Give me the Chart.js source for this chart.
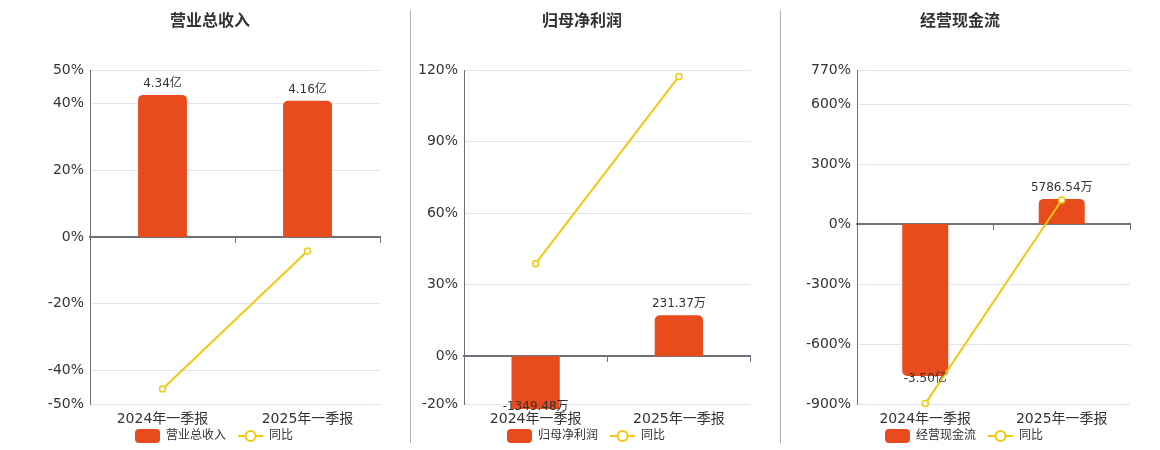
<!DOCTYPE html>
<html>
<head>
<meta charset="utf-8">
<script src="https://cdn.jsdelivr.net/npm/chart.js@4/dist/chart.umd.min.js"></script>
<style>
  html, body { margin: 0; padding: 0; background: #fff; overflow: hidden; width: 1160px; height: 450px; }
  .panel { position: absolute; top: 0; height: 452px; }
  .sep { position: absolute; top: 10px; height: 433px; width: 1px; background: #b4b4b4; }
</style>
</head>
<body>
<div class="panel" style="left:0px;width:420px;"><canvas id="c1"></canvas></div>
<div class="panel" style="left:408px;width:348px;"><canvas id="c2"></canvas></div>
<div class="panel" style="left:780px;width:360px;"><canvas id="c3"></canvas></div>
<div class="sep" style="left:410px;"></div>
<div class="sep" style="left:780px;"></div>
<script>
// ---------- data ----------
const categories = ['2024年一季报', '2025年一季报'];

const revenueTitle = '营业总收入';
const revenueValues = [4.34, 4.16];            // 亿
const revenueLabels = ['4.34亿', '4.16亿'];
const revenueYoY = [-45.5, -4.2];              // %
const revenueTicks = [50, 40, 20, 0, -20, -40, -50];

const profitTitle = '归母净利润';
const profitValues = [-1349.48, 231.37];       // 万
const profitLabels = ['-1349.48万', '231.37万'];
const profitYoY = [38.8, 117.3];               // %
const profitTicks = [120, 90, 60, 30, 0, -20];

const cashTitle = '经营现金流';
const cashValues = [-35000, 5786.54];          // 万
const cashLabels = ['-3.50亿', '5786.54万'];
const cashYoY = [-898, 120];                   // %
const cashTicks = [770, 600, 300, 0, -300, -600, -900];

const yoyLabel = '同比';

// ---------- style ----------
const FONT = '"DejaVu Sans", "Noto Sans CJK SC", sans-serif';
const BAR_COLOR = '#E84C1D';
const LINE_COLOR = '#F2C811';
const AXIS_COLOR = '#6E7079';
const GRID_COLOR = '#E0E6F1';
const TEXT_COLOR = '#333333';

function makeMarker(type) {
  const c = document.createElement('canvas');
  c.width = 33; c.height = 14;
  const ctx = c.getContext('2d');
  if (type === 'bar') {
    ctx.fillStyle = BAR_COLOR;
    const x = 8, y = 0, w = 25, h = 14, r = 4;
    ctx.beginPath();
    ctx.moveTo(x + r, y);
    ctx.arcTo(x + w, y, x + w, y + h, r);
    ctx.arcTo(x + w, y + h, x, y + h, r);
    ctx.arcTo(x, y + h, x, y, r);
    ctx.arcTo(x, y, x + w, y, r);
    ctx.closePath();
    ctx.fill();
  } else {
    ctx.strokeStyle = LINE_COLOR;
    ctx.lineWidth = 2;
    ctx.beginPath();
    ctx.moveTo(8, 7); ctx.lineTo(33, 7);
    ctx.stroke();
    ctx.beginPath();
    ctx.arc(20.5, 7, 5, 0, Math.PI * 2);
    ctx.fillStyle = '#fff';
    ctx.fill();
    ctx.stroke();
  }
  return c;
}
const barMarker = makeMarker('bar');
const lineMarker = makeMarker('line');

const barLabelPlugin = {
  id: 'barLabels',
  afterDatasetsDraw(chart, args, opts) {
    const ctx = chart.ctx;
    const area = chart.chartArea;
    const meta = chart.getDatasetMeta(0);
    const labels = opts.labels || [];
    ctx.save();
    ctx.font = '12px ' + FONT;
    ctx.fillStyle = TEXT_COLOR;
    ctx.textAlign = 'center';
    ctx.textBaseline = 'middle';
    meta.data.forEach((el, i) => {
      const v = chart.data.datasets[0].data[i];
      const top = Math.min(el.y, el.base);
      const bottom = Math.max(el.y, el.base);
      if (v >= 0) {
        ctx.fillText(labels[i], el.x, Math.max(top, area.top) - 11);
      } else {
        ctx.fillText(labels[i], el.x, Math.min(bottom, area.bottom) + 3);
      }
    });
    ctx.restore();
  }
};

function buildChart(id, title, barValues, barLabels, yoy, ticks, barMin, barMax, leftW, rightW) {
  const yMin = Math.min(...ticks), yMax = Math.max(...ticks);
  return new Chart(document.getElementById(id), {
    type: 'bar',
    data: {
      labels: categories,
      datasets: [
        { type: 'bar', label: title, data: barValues, yAxisID: 'y1', xAxisID: 'x',
          backgroundColor: BAR_COLOR, borderRadius: 5, borderSkipped: 'start',
          barPercentage: 0.337, categoryPercentage: 1,
          clip: {left: 0, top: 0, right: 0, bottom: 5}, order: 2 },
        { type: 'line', label: yoyLabel, data: yoy, yAxisID: 'y', xAxisID: 'x',
          borderColor: LINE_COLOR, borderWidth: 2, pointRadius: 3, pointBorderWidth: 1.5,
          pointBackgroundColor: '#fff', pointBorderColor: LINE_COLOR, tension: 0, clip: false, order: 1 }
      ]
    },
    options: {
      responsive: true, maintainAspectRatio: false, animation: false,
      layout: { padding: 0 },
      plugins: {
        title: { display: true, text: title, color: TEXT_COLOR,
          font: { family: FONT, size: 16, weight: 'bold', lineHeight: 1.2 },
          padding: { top: 12.4, bottom: 38.4 } },
        legend: { display: true, position: 'bottom',
          labels: { usePointStyle: true, pointStyleWidth: 33, padding: 4, color: TEXT_COLOR,
            font: { family: FONT, size: 12 },
            generateLabels(chart) {
              return [
                { text: title, pointStyle: barMarker, datasetIndex: 0, fontColor: TEXT_COLOR, lineWidth: 0, strokeStyle: 'transparent', fillStyle: BAR_COLOR },
                { text: yoyLabel, pointStyle: lineMarker, datasetIndex: 1, fontColor: TEXT_COLOR, lineWidth: 0, strokeStyle: 'transparent', fillStyle: LINE_COLOR }
              ];
            } } },
        tooltip: { enabled: false },
        barLabels: { labels: barLabels }
      },
      scales: {
        x: { type: 'category', position: 'bottom', offset: true,
          grid: { display: false, drawTicks: true, tickLength: 8 }, border: { display: false },
          ticks: { color: TEXT_COLOR, padding: 0, font: { family: FONT, size: 14, lineHeight: 1 }, maxRotation: 0, autoSkip: false } },
        xz: { type: 'category', position: { y: 0 }, offset: true,
          grid: { display: true, offset: true, drawOnChartArea: false, drawTicks: true, tickLength: 5, color: AXIS_COLOR, lineWidth: 1 },
          border: { display: true, color: AXIS_COLOR, width: 2 }, ticks: { display: false } },
        y: { type: 'linear', position: 'left', min: yMin, max: yMax,
          afterBuildTicks(scale) { scale.ticks = ticks.map(v => ({ value: v })); },
          afterFit(scale) { scale.width = leftW; },
          grid: { color: GRID_COLOR, lineWidth: 1, drawTicks: false },
          border: { display: true, color: AXIS_COLOR, width: 1 },
          ticks: { color: TEXT_COLOR, padding: 6, font: { family: FONT, size: 14 }, callback: v => v + '%' } },
        y1: { type: 'linear', position: 'right', min: barMin, max: barMax,
          afterFit(scale) { scale.width = rightW; },
          grid: { display: false, drawTicks: false, tickLength: 0 }, border: { display: false }, ticks: { display: false } }
      }
    },
    plugins: [barLabelPlugin]
  });
}

buildChart('c1', revenueTitle, revenueValues, revenueLabels, revenueYoY, revenueTicks, -5.1, 5.1, 90, 40);
buildChart('c2', profitTitle, profitValues, profitLabels, profitYoY, profitTicks, -269, 1614, 56, 2);
buildChart('c3', cashTitle, cashValues, cashLabels, cashYoY, cashTicks, -41475, 35484, 77, 10);
</script>
</body>
</html>
